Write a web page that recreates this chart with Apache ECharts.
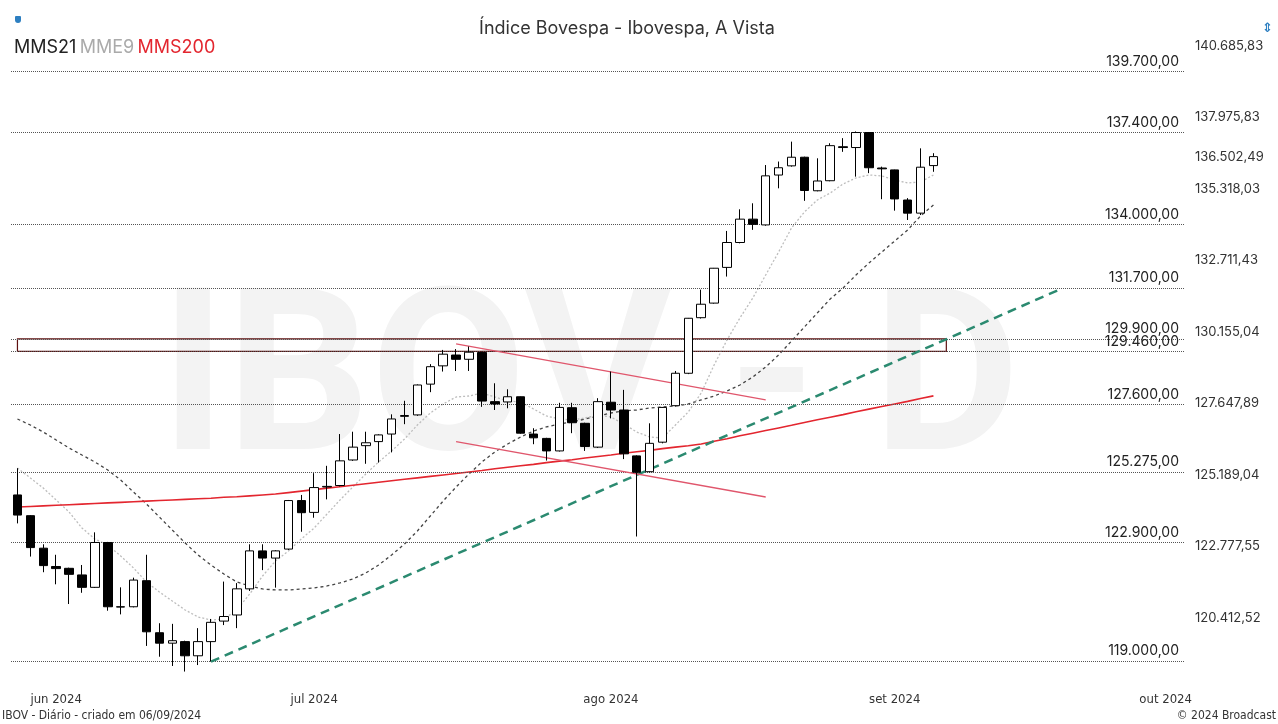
<!DOCTYPE html>
<html>
<head>
<meta charset="utf-8">
<title>Índice Bovespa</title>
<script src="https://cdn.jsdelivr.net/npm/echarts@6/dist/echarts.min.js"></script>
<style>
  html, body { margin: 0; padding: 0; background: #fff; }
  #main { width: 1278px; height: 724px; }
</style>
</head>
<body>
<div id="main"></div>
<script>
// pregões (dia do mês) — os últimos dias ainda não têm candle
var mayDays = [28, 29, 31]
var junDays = [3, 4, 5, 6, 7, 10, 11, 12, 13, 14, 17, 18, 19, 20, 21, 24, 25, 26, 27, 28]
var julDays = [1, 2, 3, 4, 5, 8, 9, 10, 11, 12, 15, 16, 17, 18, 19, 22, 23, 24, 25, 26, 29, 30, 31]
var augDays = [1, 2, 5, 6, 7, 8, 9, 12, 13, 14, 15, 16, 19, 20, 21, 22, 23, 26, 27, 28, 29, 30]
var sepDays = [2, 3, 4, 5, 6, 9, 10, 11, 12, 13, 16, 17, 18, 19, 20, 23, 24, 25, 26, 27, 30]
var octDays = [1, 2]

var monthNames = ['jan', 'fev', 'mar', 'abr', 'mai', 'jun', 'jul', 'ago', 'set', 'out', 'nov', 'dez']

var opens = [124500, 123800, 122710, 122100, 122040, 121820, 121410, 122900, 120770, 120770,
  121630, 119920, 119580, 119630, 119170, 119630, 120300, 120500, 121360, 122620,
  122380, 122680, 124310, 123910, 124770, 124820, 125690, 126180, 126320, 126580,
  127190, 127240, 128310, 128950, 129330, 129180, 129420, 127700, 127690, 127870,
  126580, 126430, 126000, 127490, 126950, 126130, 127680, 127410, 125830, 125290,
  126300, 127560, 128690, 130650, 131170, 132450, 133350, 134200, 133990, 135820,
  136160, 136480, 135240, 135610, 136870, 136840, 137400, 136080, 136010, 134900,
  134420, 136170]
var closes = [123820, 122730, 122130, 122030, 121840, 121410, 122900, 120770, 120760, 121650,
  119950, 119580, 119660, 119170, 119630, 120260, 120450, 121360, 122620, 122380,
  122620, 124310, 123900, 124750, 124790, 125660, 126130, 126280, 126550, 127100,
  127220, 128280, 128920, 129360, 129180, 129430, 127720, 127620, 127870, 126610,
  126450, 126000, 127500, 126970, 126150, 127700, 127410, 125900, 125270, 126260,
  127500, 128690, 130630, 131130, 132420, 133350, 134200, 134010, 135790, 136090,
  136480, 135250, 135600, 136910, 136840, 137400, 136090, 136050, 134940, 134420,
  136110, 136502.49]
var lows = [123540, 122430, 121910, 121510, 120860, 121230, 121390, 120640, 120520, 120750,
  119490, 119140, 118840, 118660, 118870, 118980, 120170, 120070, 121290, 121980,
  121400, 122650, 123260, 123730, 124350, 124790, 125660, 125560, 125600, 125950,
  126920, 127210, 128030, 128750, 128770, 128770, 127520, 127410, 127470, 126590,
  126230, 125670, 125980, 126610, 126000, 126100, 127120, 125720, 123100, 125270,
  126260, 127530, 128660, 130620, 131150, 132120, 133320, 133810, 133960, 135330,
  136130, 134870, 135220, 135590, 136680, 135760, 135890, 134930, 134510, 134170,
  134350, 135940]
var highs = [125410, 123820, 122840, 122490, 122060, 122150, 123240, 122920, 121410, 121730,
  122490, 120230, 120210, 119660, 120070, 120370, 121600, 121550, 122840, 122840,
  122640, 124330, 124500, 125240, 125490, 126580, 126660, 126660, 126570, 127260,
  127730, 128300, 129010, 129510, 129540, 129630, 129450, 128340, 128130, 127880,
  126780, 126450, 127660, 127660, 126970, 127820, 128750, 128110, 125850, 126950,
  127510, 128770, 130640, 131650, 132430, 133770, 134560, 134780, 136190, 136320,
  137060, 136500, 136440, 137000, 137190, 137440, 137420, 136130, 136020, 134970,
  136810, 136630]

var mms21 = [127099, 126891, 126650, 126375, 126100, 125860, 125621, 125347, 125007, 124598,
  124194, 123756, 123319, 122882, 122483, 122150, 121851, 121587, 121455, 121356,
  121323, 121323, 121356, 121389, 121455, 121554, 121686, 121884, 122150, 122483,
  122850, 123285, 123789, 124295, 124769, 125212, 125621, 125963, 126237, 126478,
  126685, 126823, 126926, 126995, 127099, 127203, 127307, 127377, 127411, 127481,
  127516, 127550, 127620, 127758, 127896, 128071, 128281, 128561, 128910, 129331,
  129825, 130320, 130818, 131318, 131711, 132177, 132609, 133006, 133405, 133805,
  134316, 134719]
var mme9 = [125416, 125076, 124735, 124329, 123924, 123386, 123017, 122816, 122450, 122050,
  121587, 121256, 120959, 120664, 120434, 120335, 120368, 120664, 121190, 121785,
  122283, 122616, 123017, 123386, 123857, 124329, 124769, 125212, 125621, 125997,
  126409, 126891, 127307, 127620, 127862, 127896, 128001, 127862, 127723, 127688,
  127446, 127203, 127099, 127064, 127134, 127238, 127168, 126926, 126650, 126478,
  126444, 126891, 127342, 128001, 128980, 129860, 130640, 131353, 132177, 133006,
  133878, 134462, 134902, 135159, 135491, 135712, 135823, 135786, 135638, 135528,
  135565, 135823]
var mms200 = [124090, 124110, 124130, 124150, 124170, 124190, 124210, 124230, 124250, 124270,
  124290, 124310, 124330, 124350, 124370, 124390, 124420, 124440, 124470, 124500,
  124530, 124580, 124630, 124680, 124730, 124780, 124830, 124880, 124930, 124980,
  125030, 125080, 125130, 125180, 125230, 125280, 125330, 125390, 125440, 125490,
  125540, 125600, 125650, 125700, 125760, 125810, 125860, 125920, 125970, 126020,
  126080, 126130, 126180, 126240, 126330, 126420, 126520, 126610, 126700, 126790,
  126880, 126980, 127070, 127160, 127250, 127350, 127440, 127530, 127620, 127710,
  127810, 127900]

// linhas horizontais desenhadas no gráfico
var refLevels = [139700, 137400, 134000, 131700, 129900, 129460, 127600, 125275, 122900, 119000]
// zona entre 129.460 e 129.900
var zoneLevels = [129900, 129460]
var zoneDates = ['2024-05-28', '2024-09-06']
// LTA verde e canal vermelho
var trendUp = [['2024-06-19', 118980], ['2024-09-19', 131700]]
var channelTop = [['2024-07-16', 129720], ['2024-08-19', 127760]]
var channelBottom = [['2024-07-16', 126320], ['2024-08-19', 124430]]

// rótulos do eixo de preços
var yTickLabels = [140685.83, 137975.83, 135318.03, 132711.43, 130155.04, 127647.89, 125189.04, 122777.55, 120412.52]

var pad = function (n) { return n < 10 ? '0' + n : '' + n }
var dates = []
;[[5, mayDays], [6, junDays], [7, julDays], [8, augDays], [9, sepDays], [10, octDays]].forEach(function (m) {
  m[1].forEach(function (d) { dates.push('2024-' + pad(m[0]) + '-' + pad(d)) })
})

var candles = opens.map(function (o, i) { return [o, closes[i], lows[i], highs[i]] })
var lastPrice = closes[closes.length - 1]

function fmt (v) {
  var s = (Math.round(v * 100) / 100).toFixed(2).split('.')
  return s[0].replace(/\B(?=(\d{3})+(?!\d))/g, '.') + ',' + s[1]
}

var numFont = 'Inter, "Noto Sans", sans-serif'
var narrowFont = '"Liberation Sans Narrow", "DejaVu Sans Condensed", sans-serif'

var myChart = echarts.init(document.getElementById('main'))

var option = {
  animation: false,
  backgroundColor: '#fff',
  title: {
    text: 'Índice Bovespa - Ibovespa, A Vista',
    left: 622,
    top: 15,
    textAlign: 'center',
    textStyle: { fontSize: 18, fontWeight: 'normal', color: '#333', fontFamily: numFont }
  },
  graphic: [
    {
      type: 'text', z: -10, silent: true,
      style: { text: 'IBOV - D', x: 590, y: 392, textAlign: 'center', textVerticalAlign: 'middle', font: 'bold 226px Roboto, sans-serif', fill: '#f3f3f3' }
    },
    {
      type: 'text', left: 14, top: 39,
      style: {
        text: '{a|MMS21} {b|MME9} {c|MMS200}',
        rich: {
          a: { fill: '#222', font: '18px ' + numFont },
          b: { fill: '#aaa', font: '18px ' + numFont },
          c: { fill: '#e3262f', font: '18px ' + numFont }
        }
      }
    },
    { type: 'rect', left: 15, top: 16, shape: { width: 6, height: 7, r: [1, 1, 3, 3] }, style: { fill: '#2d7fc1' } },
    { type: 'text', left: 1262, top: 22, style: { text: '⇕', fill: '#2d7fc1', font: 'bold 13px "DejaVu Sans"' } },
    { type: 'text', left: 2, top: 710, style: { text: 'IBOV - Diário - criado em 06/09/2024', fill: '#333', font: '12px ' + narrowFont } },
    { type: 'text', right: 2, top: 710, style: { text: '© 2024 Broadcast', fill: '#333', font: '12px ' + narrowFont } }
  ],
  grid: { left: 11, right: 93, top: 35, bottom: 41 },
  xAxis: {
    type: 'category',
    data: dates,
    boundaryGap: true,
    axisLine: { show: false },
    axisTick: { show: false },
    splitLine: { show: false },
    axisLabel: {
      margin: 10,
      color: '#333',
      fontSize: 13,
      fontFamily: narrowFont,
      interval: function (index, value) {
        return index > 0 && value.slice(5, 7) !== dates[index - 1].slice(5, 7)
      },
      formatter: function (value) {
        return monthNames[+value.slice(5, 7) - 1] + ' ' + value.slice(0, 4)
      }
    }
  },
  yAxis: {
    type: 'log',
    position: 'right',
    min: 118291,
    max: 141094,
    axisLine: { show: false },
    axisTick: { show: false },
    splitLine: { show: false },
    axisLabel: {
      customValues: yTickLabels.concat([lastPrice]),
      margin: 10,
      color: '#333',
      fontSize: 13,
      fontFamily: numFont,
      formatter: function (v) { return fmt(v) }
    }
  },
  series: [
    {
      name: 'IBOV',
      type: 'candlestick',
      data: candles,
      barWidth: 9,
      z: 5,
      itemStyle: { color: '#fff', color0: '#000', borderColor: '#000', borderColor0: '#000', borderWidth: 1 },
      markLine: {
        silent: true,
        symbol: ['none', 'none'],
        lineStyle: { type: 'dotted', color: '#555', width: 1 },
        label: {
          position: 'insideEndTop',
          distance: [6, 3],
          color: '#222',
          fontSize: 14,
          fontFamily: numFont,
          formatter: function (p) { return fmt(p.value) }
        },
        data: refLevels.map(function (v) { return { yAxis: v } })
      },
      markArea: {
        silent: true,
        itemStyle: { color: 'rgba(0,0,0,0)', borderColor: '#5e1010', borderWidth: 1.2 },
        data: [[{ xAxis: zoneDates[0], yAxis: zoneLevels[0] }, { xAxis: zoneDates[1], yAxis: zoneLevels[1] }]]
      }
    },
    {
      name: 'MMS21',
      type: 'line',
      data: mms21,
      symbol: 'none',
      z: 3,
      lineStyle: { color: '#444', width: 1.3, type: [3, 3] }
    },
    {
      name: 'MME9',
      type: 'line',
      data: mme9,
      symbol: 'none',
      z: 3,
      lineStyle: { color: '#bdbdbd', width: 1.3, type: [2, 2] }
    },
    {
      name: 'MMS200',
      type: 'line',
      data: mms200,
      symbol: 'none',
      z: 3,
      lineStyle: { color: '#e3262f', width: 1.6 },
      markLine: {
        silent: true,
        symbol: ['none', 'none'],
        label: { show: false },
        data: [
          [{ coord: trendUp[0], lineStyle: { color: '#2b8a70', width: 2.5, type: [9, 6] } }, { coord: trendUp[1] }],
          [{ coord: channelTop[0], lineStyle: { color: '#e0566c', width: 1.3, type: 'solid' } }, { coord: channelTop[1] }],
          [{ coord: channelBottom[0], lineStyle: { color: '#e0566c', width: 1.3, type: 'solid' } }, { coord: channelBottom[1] }]
        ]
      }
    }
  ]
}

myChart.setOption(option)
</script>
</body>
</html>
